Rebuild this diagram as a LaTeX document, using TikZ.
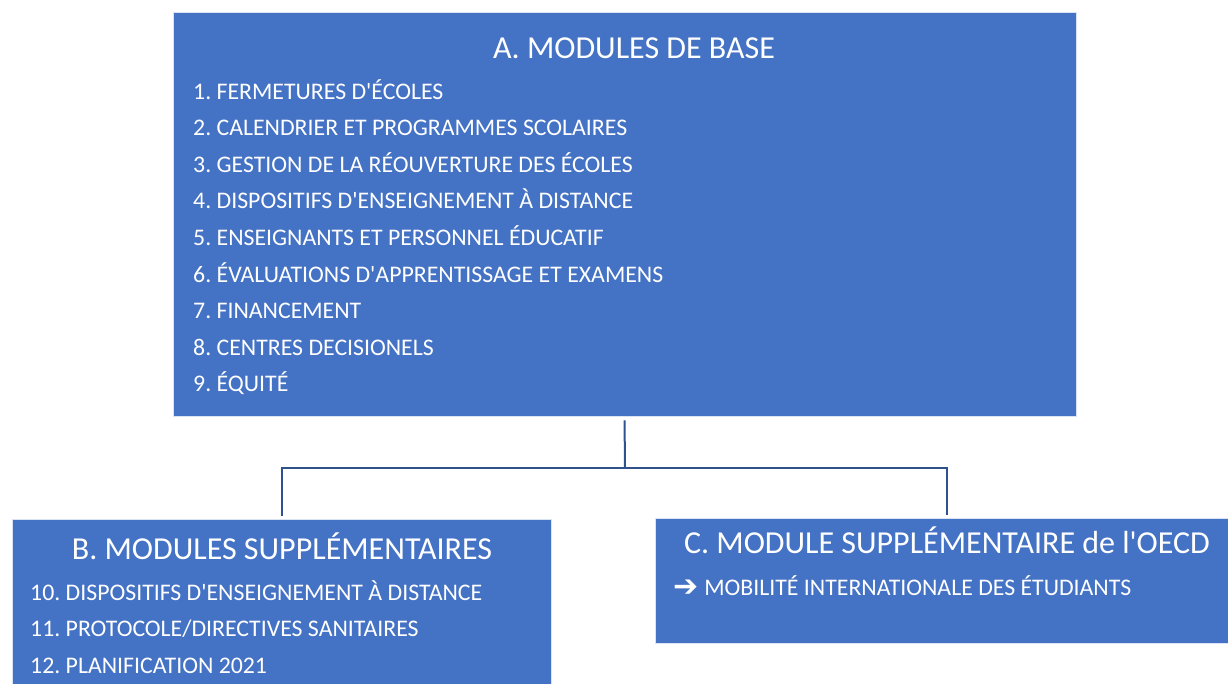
\documentclass[tikz,border=0pt]{standalone}
\usepackage{fontspec}
\setmainfont{Carlito}
\newfontfamily\symfont{DejaVu Sans Bold}
\usetikzlibrary{calc, positioning}
\definecolor{boxblue}{HTML}{4472C4}
\definecolor{linkblue}{HTML}{2F528F}
\newcommand{\ap}{\textquotesingle}
\frenchspacing

\begin{document}
\begin{tikzpicture}[x=1pt,y=-1pt]
\tikzset{modbox/.style={rectangle,fill=boxblue,draw=white!80!boxblue,line width=0.8pt,inner sep=0pt}}
\tikzset{modtitle/.style={text=white,font=\fontsize{32}{38}\selectfont,inner sep=0pt}}
\tikzset{moditem/.style={text=white,font=\fontsize{23.8}{28}\selectfont,inner sep=0pt,anchor=base west}}
\tikzset{link/.style={draw=linkblue,line width=2pt}}
\useasboundingbox (0,0) rectangle (1228,683);
% boxes
\node[modbox,minimum width=903pt,minimum height=404pt] (A) at (624.5,214) {};
\node[modbox,minimum width=539pt,minimum height=166pt] (B) at (281.5,602) {};
\node[modbox,minimum width=573pt,minimum height=125pt] (C) at (941.5,580.5) {};
% titles
\node[modtitle,anchor=base] (A_t) at (634,58) {A. MODULES DE BASE};
\node[modtitle,anchor=base] (B_t) at (282,559) {B. MODULES SUPPLÉMENTAIRES};
\node[modtitle,anchor=base] (C_t) at (947,553) {C. MODULE SUPPLÉMENTAIRE de l\ap OECD};
% items
\foreach \txt [count=\i] in {FERMETURES D\ap ÉCOLES, CALENDRIER ET PROGRAMMES SCOLAIRES,
  GESTION DE LA RÉOUVERTURE DES ÉCOLES, DISPOSITIFS D\ap ENSEIGNEMENT À DISTANCE,
  ENSEIGNANTS ET PERSONNEL ÉDUCATIF, ÉVALUATIONS D\ap APPRENTISSAGE ET EXAMENS,
  FINANCEMENT, CENTRES DECISIONELS, ÉQUITÉ}
  \node[moditem] (A_\i) at (193,{99+36.6*(\i-1)}) {\i. \txt};
\foreach \txt [count=\i from 10] in {DISPOSITIFS D\ap ENSEIGNEMENT À DISTANCE,
  PROTOCOLE/DIRECTIVES SANITAIRES, PLANIFICATION 2021}
  \node[moditem] (B_\i) at (30,{600+36.6*(\i-10)}) {\i. \txt};
\node[moditem] (C_1) at (673,595) {\raisebox{-1.5pt}{\symfont\fontsize{30}{32}\selectfont ➔}\hspace{6pt}MOBILITÉ INTERNATIONALE DES ÉTUDIANTS};
% connectors
\coordinate (bar) at (625,468);
\draw[link,shorten <=4pt] (A.south) -- (bar);
\draw[link,shorten >=3pt] (bar) -| (B.north);
\draw[link,shorten >=3pt] (bar) -| ([xshift=5.5pt]C.north);
\end{tikzpicture}
\end{document}
